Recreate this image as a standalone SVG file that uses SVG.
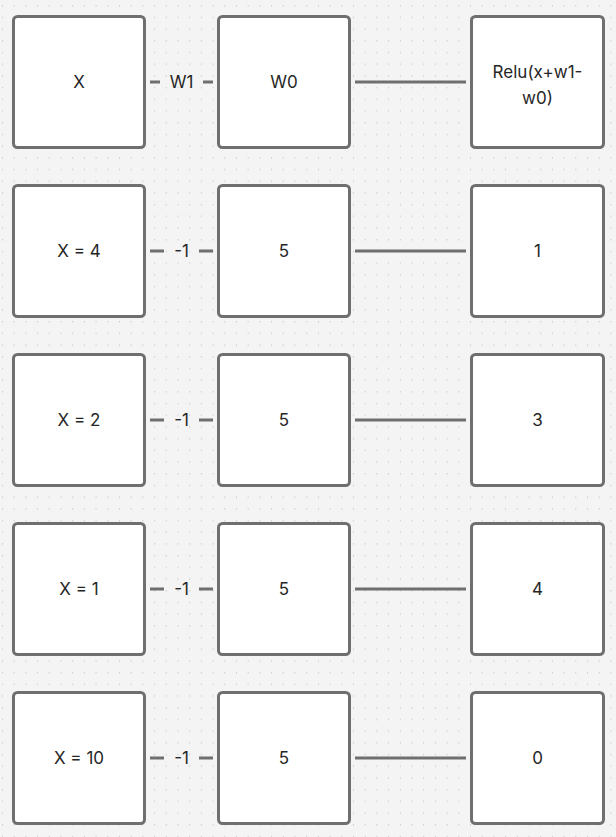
<svg xmlns="http://www.w3.org/2000/svg" width="616" height="837" viewBox="0 0 616 837">
<defs>
<pattern id="dots" x="2" y="5" width="11.7" height="11.7" patternUnits="userSpaceOnUse">
<rect x="0" y="0" width="1" height="1.4" fill="#c9c9c9"/>
</pattern>
<style>
.box{fill:#ffffff;stroke:#6f6f6f;stroke-width:3}
.ln{stroke:#6f6f6f;stroke-width:3;fill:none}
.t{font-family:Inter,"Noto Sans","Liberation Sans",sans-serif;font-size:17px;fill:#262626;text-anchor:middle;dominant-baseline:central}
</style>
</defs>
<rect width="616" height="837" fill="#f4f4f4"/>
<rect width="616" height="837" fill="url(#dots)"/>
<g id="connectors">
<line class="ln" x1="150" y1="82" x2="160" y2="82"/><line class="ln" x1="203" y1="82" x2="213" y2="82"/><text class="t" x="181.5" y="82">W1</text>
<line class="ln" x1="355" y1="82" x2="466" y2="82"/>
<line class="ln" x1="150" y1="251" x2="164" y2="251"/><line class="ln" x1="199" y1="251" x2="213" y2="251"/><text class="t" x="181.5" y="251">-1</text>
<line class="ln" x1="355" y1="251" x2="466" y2="251"/>
<line class="ln" x1="150" y1="420" x2="164" y2="420"/><line class="ln" x1="199" y1="420" x2="213" y2="420"/><text class="t" x="181.5" y="420">-1</text>
<line class="ln" x1="355" y1="420" x2="466" y2="420"/>
<line class="ln" x1="150" y1="589" x2="164" y2="589"/><line class="ln" x1="199" y1="589" x2="213" y2="589"/><text class="t" x="181.5" y="589">-1</text>
<line class="ln" x1="355" y1="589" x2="466" y2="589"/>
<line class="ln" x1="150" y1="758" x2="164" y2="758"/><line class="ln" x1="199" y1="758" x2="213" y2="758"/><text class="t" x="181.5" y="758">-1</text>
<line class="ln" x1="355" y1="758" x2="466" y2="758"/>
</g>
<g id="x-head"><rect class="box" x="13.5" y="16.5" width="131" height="131" rx="4"/><text class="t" x="79" y="82">X</text></g>
<g id="w0-head"><rect class="box" x="218.5" y="16.5" width="131" height="131" rx="4"/><text class="t" x="284" y="82">W0</text></g>
<g id="relu-head"><rect class="box" x="471.5" y="16.5" width="132" height="131" rx="4"/><text class="t" x="537.5" y="71.5">Relu(x+w1-</text><text class="t" x="537.5" y="97.5">w0)</text></g>
<g id="x4"><rect class="box" x="13.5" y="185.5" width="131" height="131" rx="4"/><text class="t" x="79" y="251">X = 4</text></g>
<g id="w0-2"><rect class="box" x="218.5" y="185.5" width="131" height="131" rx="4"/><text class="t" x="284" y="251">5</text></g>
<g id="out-2"><rect class="box" x="471.5" y="185.5" width="132" height="131" rx="4"/><text class="t" x="537.5" y="251">1</text></g>
<g id="x2"><rect class="box" x="13.5" y="354.5" width="131" height="131" rx="4"/><text class="t" x="79" y="420">X = 2</text></g>
<g id="w0-3"><rect class="box" x="218.5" y="354.5" width="131" height="131" rx="4"/><text class="t" x="284" y="420">5</text></g>
<g id="out-3"><rect class="box" x="471.5" y="354.5" width="132" height="131" rx="4"/><text class="t" x="537.5" y="420">3</text></g>
<g id="x1"><rect class="box" x="13.5" y="523.5" width="131" height="131" rx="4"/><text class="t" x="79" y="589">X = 1</text></g>
<g id="w0-4"><rect class="box" x="218.5" y="523.5" width="131" height="131" rx="4"/><text class="t" x="284" y="589">5</text></g>
<g id="out-4"><rect class="box" x="471.5" y="523.5" width="132" height="131" rx="4"/><text class="t" x="537.5" y="589">4</text></g>
<g id="x10"><rect class="box" x="13.5" y="692.5" width="131" height="131" rx="4"/><text class="t" x="79" y="758">X = 10</text></g>
<g id="w0-5"><rect class="box" x="218.5" y="692.5" width="131" height="131" rx="4"/><text class="t" x="284" y="758">5</text></g>
<g id="out-5"><rect class="box" x="471.5" y="692.5" width="132" height="131" rx="4"/><text class="t" x="537.5" y="758">0</text></g>
</svg>
